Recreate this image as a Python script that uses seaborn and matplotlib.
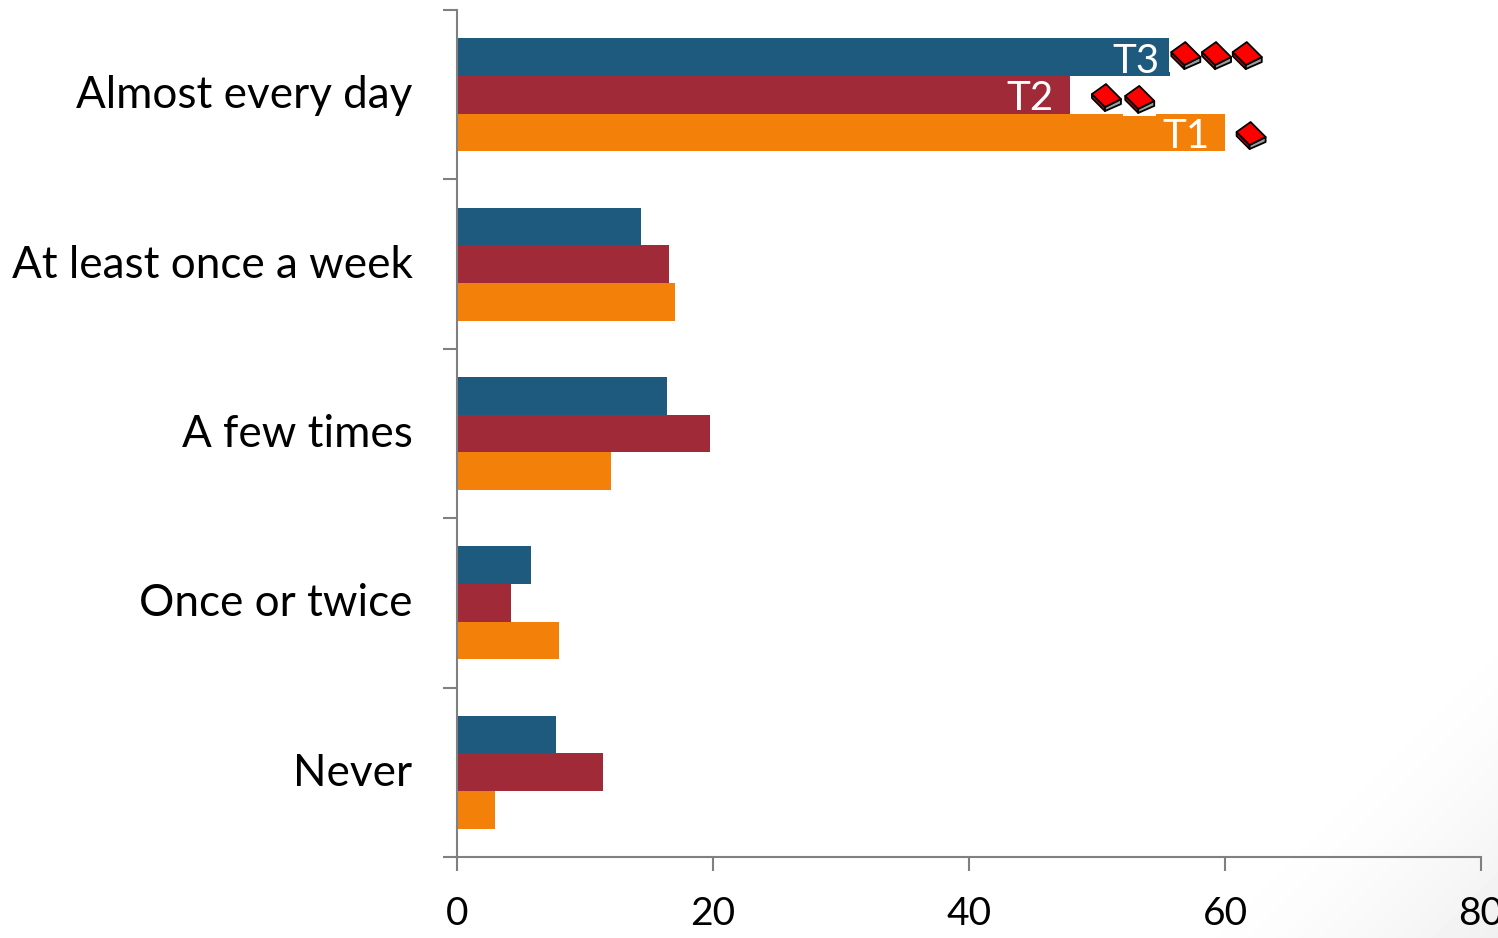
import numpy as np
import pandas as pd
import matplotlib
matplotlib.use("Agg")
import matplotlib.pyplot as plt
import seaborn as sns
from matplotlib.collections import PolyCollection
from matplotlib.transforms import IdentityTransform, ScaledTranslation

categories = ["Almost every day", "At least once a week", "A few times", "Once or twice", "Never"]
t3_values = [55.7, 14.4, 16.4, 5.8, 7.7]
t2_values = [47.9, 16.6, 19.8, 4.2, 11.4]
t1_values = [60.0, 17.0, 12.0, 8.0, 3.0]
series_names = ["T3", "T2", "T1"]
series_colors = ["#1d5a7e", "#a02a38", "#f28009"]
x_ticks = [0, 20, 40, 60, 80]

# Book icons beside the top group: x in value units, y in category units
book_x = [56.9, 59.3, 61.7, 50.7, 53.3, 62.0]
book_y = [-0.234, -0.234, -0.234, 0.014, 0.025, 0.238]

FONT = "Lato"
CATEGORY_SIZE = 31.7
TICK_SIZE = 28
SERIES_SIZE = 29
AXIS_GRAY = "#808080"

sns.set_theme(style="white")
plt.rcParams["font.family"] = [FONT, "DejaVu Sans"]

W, H = 1498, 938
fig = plt.figure(figsize=(W / 100, H / 100), dpi=100, facecolor="white")

# Soft grey vignette in the lower right corner of the slide
bg = fig.add_axes([0, 0, 1, 1], zorder=0)
yy, xx = np.mgrid[0:H, 0:W]
corner_dist = (W - xx) + (H - yy)
shade = 1 - 0.06 * np.clip(1 - corner_dist / 340.0, 0, 1) ** 1.5
bg.imshow(shade, cmap="gray", vmin=0, vmax=1, aspect="auto", origin="upper")
bg.axis("off")

ax = fig.add_axes([457 / W, 1 - 857 / H, (1481 - 457) / W, (857 - 10) / H], zorder=1)
ax.patch.set_alpha(0)

df = pd.DataFrame({
    "category": categories * 3,
    "series": np.repeat(series_names, len(categories)),
    "value": t3_values + t2_values + t1_values,
})
sns.barplot(data=df, y="category", x="value", hue="series", order=categories,
            hue_order=series_names, palette=series_colors, orient="h",
            width=0.667, gap=0, saturation=1, legend=False, ax=ax, zorder=2,
            linewidth=0, edgecolor="none")

ax.set_xlim(0, 80)
ax.set_ylim(len(categories) - 0.5, -0.5)
ax.set_xlabel("")
ax.set_ylabel("")

for side in ("top", "right"):
    ax.spines[side].set_visible(False)
for side in ("left", "bottom"):
    ax.spines[side].set_color(AXIS_GRAY)
    ax.spines[side].set_linewidth(1.5)

ax.set_xticks(x_ticks)
ax.set_xticklabels([str(v) for v in x_ticks], fontsize=TICK_SIZE, color="black")
ax.tick_params(axis="x", which="major", length=10, width=1.5, color=AXIS_GRAY, pad=18, bottom=True)

# Tick marks sit on group boundaries, labels on group centres
ax.set_yticks(np.arange(len(categories) + 1) - 0.5)
ax.set_yticklabels([])
ax.set_yticks(np.arange(len(categories)), minor=True)
ax.set_yticklabels(categories, minor=True, fontsize=CATEGORY_SIZE, color="black")
ax.tick_params(axis="y", which="major", length=10, width=1.5, color=AXIS_GRAY, left=True)
ax.tick_params(axis="y", which="minor", length=0, pad=32, left=False)
nudge = ScaledTranslation(0, 3 / 100, fig.dpi_scale_trans)
for lbl in ax.get_yticklabels(minor=True):
    lbl.set_transform(lbl.get_transform() + nudge)

# Series names inside the bars of the top group
label_inset = {"T3": 10, "T2": 16, "T1": 15}
for i, (name, vals) in enumerate(zip(series_names, [t3_values, t2_values, t1_values])):
    ax.annotate(name, xy=(vals[0], (i - 1) * 0.667 / 3), xytext=(-label_inset[name] * 0.72, -3),
                textcoords="offset points", ha="right", va="center",
                color="white", fontsize=SERIES_SIZE, zorder=4)

# Book icon outlines in pixels relative to each anchor
backing = [[(-16.5, -17), (16.5, -17), (16.5, 17), (-16.5, 17)]]
faces = [
    [(-14, 3), (-1, -10), (-1, -14), (-14, -1)],
    [(-1, -10), (15, -2), (15, -7), (-1, -14)],
    [(-14, 3), (0, 13), (15, -2), (-1, -10)],
]
face_colors = ["#e00000", "#9a9a9a", "#ff0000"]
anchors = list(zip(book_x, book_y))

back = PolyCollection(backing * len(anchors), offsets=anchors, offset_transform=ax.transData,
                      facecolors="white", edgecolors="none", zorder=5, clip_on=False)
back.set_transform(IdentityTransform())
ax.add_collection(back, autolim=False)

verts = faces * len(anchors)
offsets = [a for a in anchors for _ in faces]
books = PolyCollection(verts, offsets=offsets, offset_transform=ax.transData,
                       facecolors=face_colors * len(anchors), edgecolors="black",
                       linewidths=1.3, zorder=6, clip_on=False)
books.set_transform(IdentityTransform())
ax.add_collection(books, autolim=False)

fig.savefig("out.png", dpi=100, facecolor="white")
